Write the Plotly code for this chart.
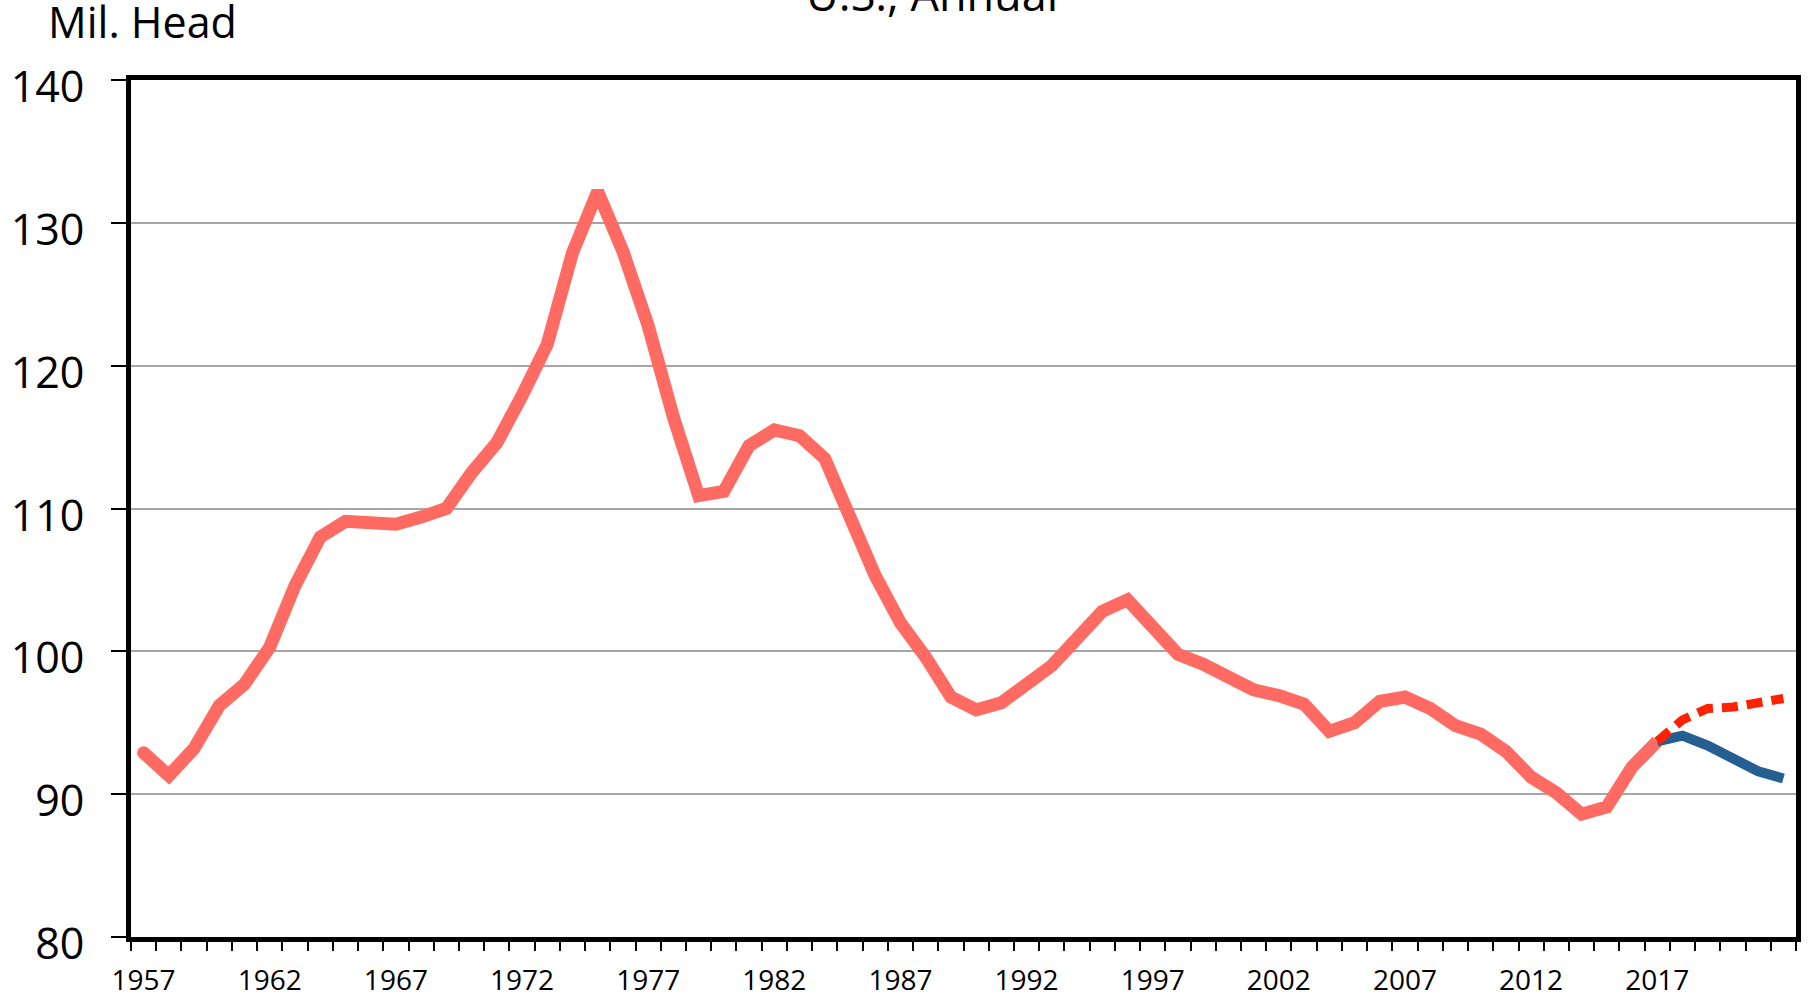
import plotly.graph_objects as go

# U.S. cattle inventory, million head
hist_years = list(range(1957, 2018))
hist_values = [
    92.9, 91.3, 93.2, 96.2, 97.7, 100.3, 104.6, 108.0, 109.1, 109.0,
    108.9, 109.4, 110.0, 112.5, 114.6, 117.9, 121.5, 127.9, 132.2, 128.0,
    122.8, 116.4, 110.9, 111.2, 114.4, 115.5, 115.1, 113.5, 109.6, 105.3,
    102.0, 99.6, 96.8, 95.9, 96.4, 97.6, 99.0, 100.9, 102.8, 103.6,
    101.8, 99.8, 99.1, 98.2, 97.3, 96.9, 96.3, 94.4, 95.0, 96.5,
    96.8, 96.0, 94.8, 94.2, 93.0, 91.2, 90.1, 88.6, 89.1, 91.9,
    93.7,
]

proj_years = list(range(2017, 2023))
proj_low = [93.7, 94.1, 93.4, 92.4, 91.6, 91.1]
proj_high = [93.7, 95.2, 96.0, 96.1, 96.4, 96.7]

label_years = list(range(1957, 2018, 5))
y_ticks = [80, 90, 100, 110, 120, 130, 140]

W, H = 1810, 1000
ML, MR, MT, MB = 131, 14, 80, 63
PW, PH = W - ML - MR, H - MT - MB

FONT = "Open Sans"

fig = go.Figure()

fig.add_trace(go.Scatter(
    x=hist_years, y=hist_values, mode="lines",
    line=dict(color="#FF6B63", width=13),
    hoverinfo="skip", showlegend=False,
))
# round start cap
fig.add_trace(go.Scatter(
    x=hist_years[:1], y=hist_values[:1], mode="markers",
    marker=dict(color="#FF6B63", size=13, line=dict(width=0)),
    hoverinfo="skip", showlegend=False,
))
fig.add_trace(go.Scatter(
    x=proj_years, y=proj_low, mode="lines",
    line=dict(color="#255E91", width=10),
    hoverinfo="skip", showlegend=False,
))
fig.add_trace(go.Scatter(
    x=proj_years, y=proj_high, mode="lines",
    line=dict(color="#FF2200", width=9, dash="16px,9px"),
    hoverinfo="skip", showlegend=False,
))

fig.update_xaxes(
    range=[1956.5, 2022.5], automargin=False,
    tickmode="array", tickvals=label_years, ticktext=[str(y) for y in label_years],
    ticks="", ticklabelstandoff=14,
    tickfont=dict(family=FONT, size=28, color="#000000"),
    showgrid=False, zeroline=False,
    showline=True, linecolor="#000000", linewidth=5, mirror=True,
    minor=dict(
        tickmode="array",
        tickvals=[y + 0.5 for y in range(1956, 2023)],
        ticks="outside", ticklen=9, tickwidth=2, tickcolor="#000000",
        showgrid=False,
    ),
)

fig.update_yaxes(
    range=[80, 140], automargin=False,
    tickmode="array", tickvals=y_ticks, ticktext=[str(v) for v in y_ticks],
    ticks="outside", ticklen=15, tickwidth=2, tickcolor="#000000",
    ticklabelstandoff=18, ticklabelshift=7,
    tickfont=dict(family=FONT, size=43, color="#000000"),
    showgrid=True, gridcolor="#A6A6A6", gridwidth=2,
    zeroline=False,
    showline=True, linecolor="#000000", linewidth=5, mirror=True,
)


def px_x(p):
    return (p - ML) / PW


def px_y(p):
    return 1 - (p - MT) / PH


fig.add_annotation(
    text="Mil. Head", xref="paper", yref="paper",
    x=px_x(46), y=px_y(22), xanchor="left", yanchor="middle",
    showarrow=False, font=dict(family=FONT, size=43, color="#000000"),
)
fig.add_annotation(
    text="U.S., Annual", xref="paper", yref="paper",
    x=px_x(932), y=px_y(-6), xanchor="center", yanchor="middle",
    showarrow=False, font=dict(family=FONT, size=45, color="#000000"),
)

fig.update_layout(
    width=W, height=H,
    margin=dict(l=ML, r=MR, t=MT, b=MB, pad=0, autoexpand=False),
    paper_bgcolor="#FFFFFF", plot_bgcolor="#FFFFFF",
    showlegend=False,
)

fig.write_html("out.html")
